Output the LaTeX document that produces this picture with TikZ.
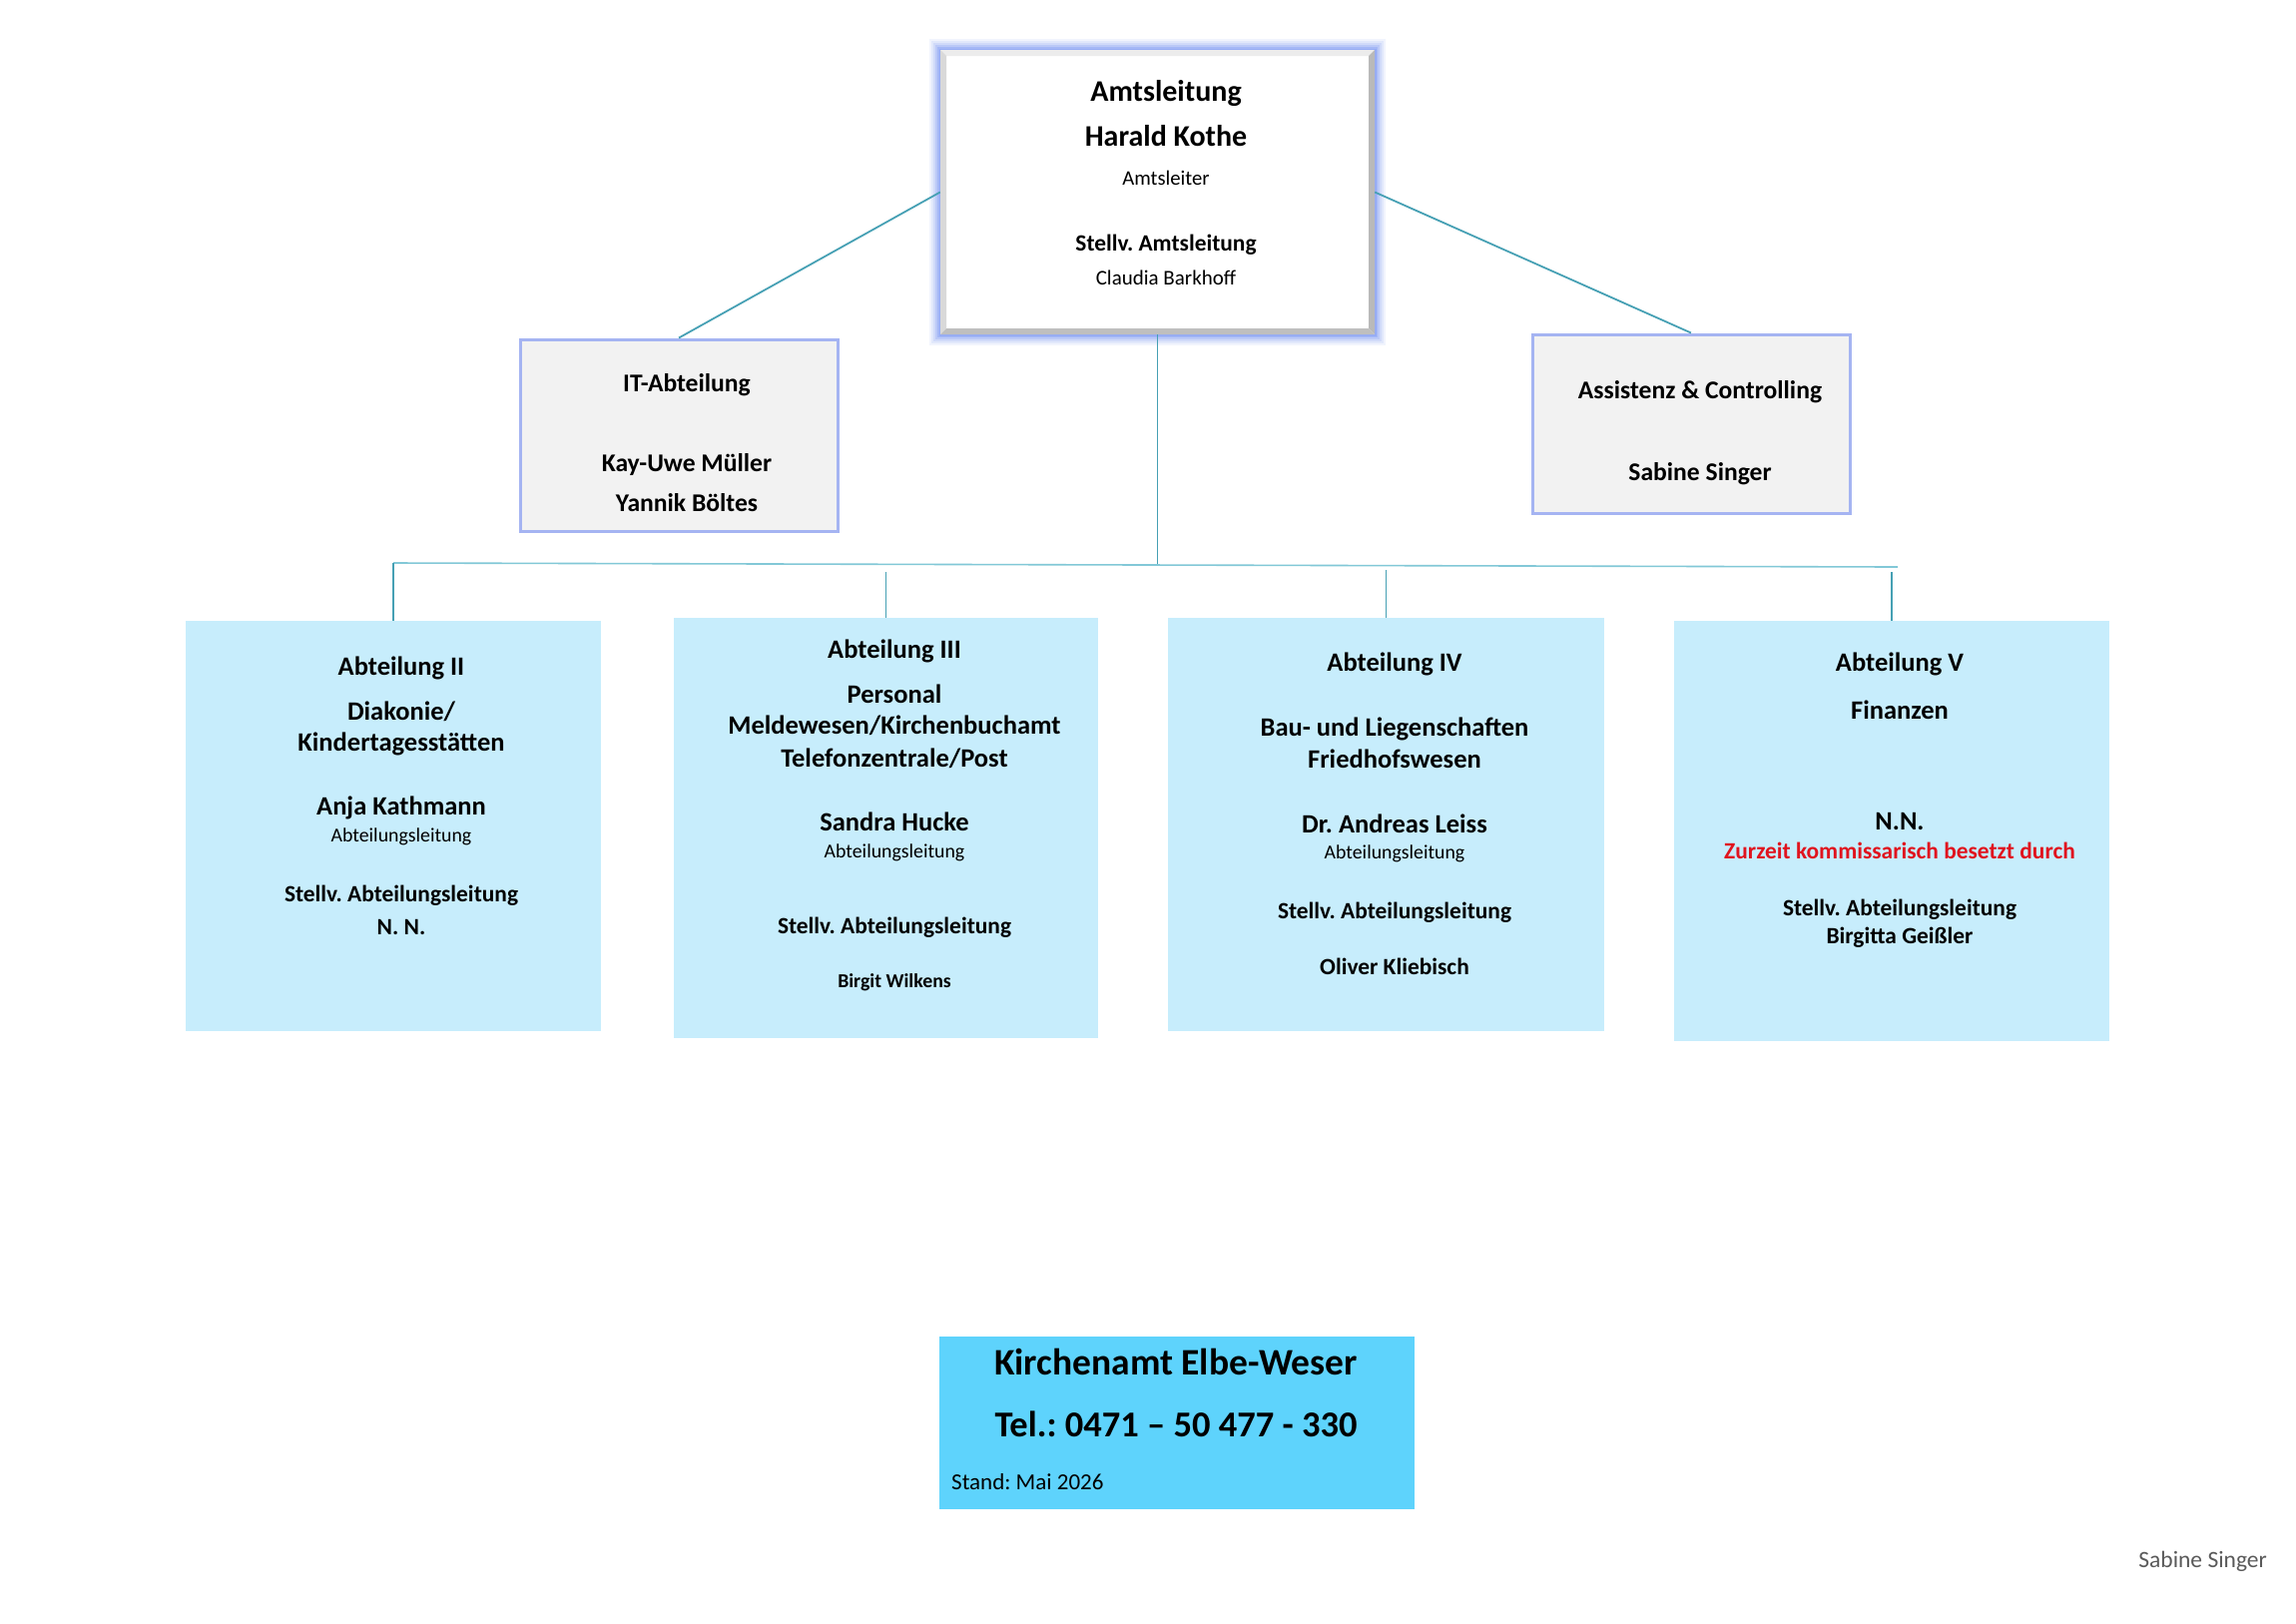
\documentclass[tikz,border=0pt]{standalone}
\usepackage{fontspec}
\setmainfont{Carlito}
\frenchspacing
\definecolor{deptfill}{RGB}{199,237,252}
\definecolor{bottomfill}{RGB}{94,211,252}
\definecolor{greyfill}{RGB}{242,242,242}
\definecolor{boxborder}{RGB}{165,180,242}
\definecolor{glowc}{RGB}{140,165,245}
\definecolor{linec}{RGB}{70,160,180}
\definecolor{busc}{RGB}{130,200,215}
\definecolor{redtext}{RGB}{224,20,30}
\definecolor{footc}{RGB}{90,90,90}
\tikzset{
  deptbox/.style={fill=deptfill, draw=none, inner sep=0pt},
  greybox/.style={fill=greyfill, draw=boxborder, line width=3pt, inner sep=0pt},
  bottombox/.style={fill=bottomfill, draw=none, inner sep=0pt},
  conn/.style={draw=linec, line width=1.8pt},
  busline/.style={draw=busc, line width=1.6pt},
  txt/.style={anchor=mid, inner sep=0pt},
  bigB/.style={txt, yshift=-8.5pt, font=\bfseries\fontsize{30pt}{34pt}\selectfont},
  headB/.style={txt, yshift=-7pt, font=\bfseries\fontsize{26.5pt}{30pt}\selectfont},
  midB/.style={txt, yshift=-6.5pt, font=\bfseries\fontsize{23.4pt}{27pt}\selectfont},
  smallB/.style={txt, yshift=-5.5pt, font=\bfseries\fontsize{19.8pt}{23pt}\selectfont},
  smallR/.style={txt, yshift=-5.5pt, font=\fontsize{19.8pt}{23pt}\selectfont},
  midR/.style={txt, yshift=-6pt, font=\fontsize{21pt}{25pt}\selectfont},
  itB/.style={txt, yshift=-7pt, font=\bfseries\fontsize{25.6pt}{29pt}\selectfont},
}
\begin{document}
\begin{tikzpicture}[x=1pt,y=-1pt]
\useasboundingbox[fill=white] (0,0) rectangle (2300,1626);

% ---- top box with glow and bevel
\foreach \w/\o in {22/0.12, 18/0.15, 14/0.2, 10/0.3, 6/0.45, 3/0.6}{
  \draw[glowc, opacity=\o, line width=\w pt] (942,50) rectangle (1377,335);
}
\node[fill=white, draw=none, inner sep=0pt, minimum width=435pt, minimum height=285pt] (top) at (1159.5,192.5) {};
\fill[gray!15] (942,50) -- (1377,50) -- (1371,56) -- (948,56) -- cycle;
\fill[gray!30] (942,50) -- (948,56) -- (948,329) -- (942,335) -- cycle;
\fill[gray!55] (1377,50) -- (1377,335) -- (1371,329) -- (1371,56) -- cycle;
\fill[gray!50] (942,335) -- (1377,335) -- (1371,329) -- (948,329) -- cycle;

\node[bigB] (t1) at (1168,91) {Amtsleitung};
\node[bigB] (t2) at (1168,136) {Harald Kothe};
\node[txt, yshift=-6pt, font=\fontsize{20.7pt}{24pt}\selectfont] (t3) at (1168,177) {Amtsleiter};
\node[midB] (t4) at (1168,243) {Stellv. Amtsleitung};
\node[midR] (t5) at (1168,277) {Claudia Barkhoff};

% ---- side boxes
\node[greybox, minimum width=318pt, minimum height=192pt] (it) at (680,436) {};
\node[itB] (it1) at (688,383) {IT-Abteilung};
\node[itB] (it2) at (688,463) {Kay-Uwe Müller};
\node[itB] (it3) at (688,503) {Yannik Böltes};

\node[greybox, minimum width=318pt, minimum height=179pt] (ac) at (1694,424.5) {};
\node[itB] (ac1) at (1703,390) {Assistenz \& Controlling};
\node[itB] (ac2) at (1703,472) {Sabine Singer};

% ---- department boxes
\node[deptbox, minimum width=416pt, minimum height=411pt] (d2) at (394,827.5) {};
\node[deptbox, minimum width=425pt, minimum height=421pt] (d3) at (887.5,829.5) {};
\node[deptbox, minimum width=437pt, minimum height=414pt] (d4) at (1388.5,826) {};
\node[deptbox, minimum width=436pt, minimum height=421pt] (d5) at (1895,832.5) {};

% Abteilung II
\node[headB] (a21) at (402,667) {Abteilung II};
\node[headB] (a22) at (402,712) {Diakonie/};
\node[headB] (a23) at (402,743) {Kindertagesstätten};
\node[headB] (a24) at (402,807) {Anja Kathmann};
\node[smallR] (a25) at (402,836) {Abteilungsleitung};
\node[midB] (a26) at (402,895) {Stellv. Abteilungsleitung};
\node[midB] (a27) at (402,928) {N. N.};

% Abteilung III
\node[headB] (a31) at (896,650) {Abteilung III};
\node[headB] (a32) at (896,695) {Personal};
\node[headB] (a33) at (896,726) {Meldewesen/Kirchenbuchamt};
\node[headB] (a34) at (896,759) {Telefonzentrale/Post};
\node[headB] (a35) at (896,823) {Sandra Hucke};
\node[smallR] (a36) at (896,852) {Abteilungsleitung};
\node[midB] (a37) at (896,927) {Stellv. Abteilungsleitung};
\node[smallB] (a38) at (896,982) {Birgit Wilkens};

% Abteilung IV
\node[headB] (a41) at (1397,663) {Abteilung IV};
\node[headB] (a42) at (1397,728) {Bau- und Liegenschaften};
\node[headB] (a43) at (1397,760) {Friedhofswesen};
\node[headB] (a44) at (1397,825) {Dr. Andreas Leiss};
\node[smallR] (a45) at (1397,853) {Abteilungsleitung};
\node[midB] (a46) at (1397,912) {Stellv. Abteilungsleitung};
\node[midB] (a47) at (1397,968) {Oliver Kliebisch};

% Abteilung V
\node[headB] (a51) at (1903,663) {Abteilung V};
\node[headB] (a52) at (1903,711) {Finanzen};
\node[headB] (a53) at (1903,822) {N.N.};
\node[midB, text=redtext] (a54) at (1903,852) {Zurzeit kommissarisch besetzt durch};
\node[midB] (a55) at (1903,909) {Stellv. Abteilungsleitung};
\node[midB] (a56) at (1903,937) {Birgitta Geißler};

% ---- bottom info box
\node[bottombox, minimum width=476pt, minimum height=173pt] (info) at (1179,1425.5) {};
\node[txt, yshift=-10pt, font=\bfseries\fontsize{37.5pt}{41pt}\selectfont] (i1) at (1178,1365) {Kirchenamt Elbe-Weser};
\node[txt, yshift=-10pt, font=\bfseries\fontsize{36.5pt}{40pt}\selectfont] (i2) at (1178,1427) {Tel.: 0471 – 50 477 - 330};
\node[txt, anchor=mid west, yshift=-6.5pt, font=\fontsize{23pt}{27pt}\selectfont] (i3) at (953,1484) {Stand: Mai 2026};

% ---- footer
\node[txt, anchor=mid east, yshift=-6.5pt, text=footc, font=\fontsize{23.5pt}{27pt}\selectfont] (foot) at (2271,1562) {Sabine Singer};

% ---- connectors
\coordinate (busL) at (394,564);
\coordinate (busR) at (1901,568);
\coordinate (busM) at (1159.5,566);
\coordinate (j3) at (887.5,573);
\coordinate (j4) at (1388.5,571);
\coordinate (j5) at (1895,573);

\draw[conn] (top.west) -- (it.north);
\draw[conn] (top.east) -- (ac.north);
\draw[conn] (top.south) -- (busM);
\draw[busline] (busL) -- (busR);
\draw[conn] (busL) -- (d2.north);
\draw[conn] (j3) -- (d3.north);
\draw[conn] (j4) -- (d4.north);
\draw[conn] (j5) -- (d5.north);
\end{tikzpicture}
\end{document}
